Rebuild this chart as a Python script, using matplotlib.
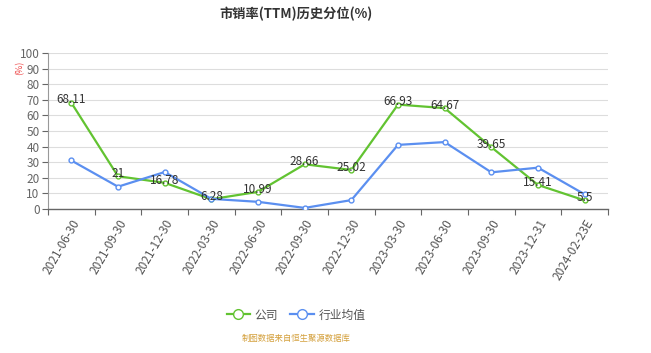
import matplotlib
matplotlib.use("Agg")
import matplotlib.pyplot as plt
import numpy as np

plt.rcParams['font.family'] = ['Noto Sans CJK SC', 'DejaVu Sans']

dates = ['2021-06-30', '2021-09-30', '2021-12-30', '2022-03-30', '2022-06-30',
         '2022-09-30', '2022-12-30', '2023-03-30', '2023-06-30', '2023-09-30',
         '2023-12-31', '2024-02-23E']
company = [68.11, 21, 16.78, 6.28, 10.99, 28.66, 25.02, 66.93, 64.67, 39.65, 15.41, 5.5]
industry = [31.1, 14.3, 23.7, 6.5, 4.6, 0.7, 5.7, 41.1, 42.9, 23.5, 26.5, 9.4]

green = '#62c331'
blue = '#5b8ff0'

fig = plt.figure(figsize=(6.51, 3.53), dpi=100)
ax = fig.add_axes([48/651, 1-209/353, 560/651, 156/353])

x = np.arange(len(dates))
ax.plot(x, company, color=green, lw=1.6, marker='o', ms=3.5, mfc='white', mec=green, mew=1, zorder=3)
ax.plot(x, industry, color=blue, lw=1.6, marker='o', ms=3.5, mfc='white', mec=blue, mew=1, zorder=3)

for xi, v in zip(x, company):
    ax.annotate(f'{v:g}', (xi, v), xytext=(0, 2), textcoords='offset points',
                ha='center', va='center', fontsize=8.5, color='#333333', zorder=4)

ax.set_xlim(-0.5, len(dates) - 0.5)
ax.set_ylim(0, 100)
ax.set_yticks(np.arange(0, 101, 10))
ax.tick_params(axis='y', labelsize=8.5, colors='#666666', length=4, width=0.8, pad=2)
ax.set_xticks(x)
ax.set_xticklabels(dates, rotation=60, ha='right', rotation_mode='anchor', fontsize=8.5, color='#555555')
ax.tick_params(axis='x', length=0, pad=6)
ax.set_xticks(np.arange(-0.5, len(dates)), minor=True)
ax.tick_params(axis='x', which='minor', length=4, width=0.8, color='#666666')

ax.grid(axis='y', color='#dddddd', lw=0.8)
ax.set_axisbelow(True)
for s in ['top', 'right']:
    ax.spines[s].set_visible(False)
ax.spines['left'].set_color('#999999')
ax.spines['bottom'].set_color('#666666')
ax.spines['bottom'].set_linewidth(1)

fig.text(20/651, 1-68/353, '(%)', color='#ee4444', fontsize=6.5, rotation=90, ha='center', va='center')
fig.text(296/651, 1-14/353, '市销率(TTM)历史分位(%)', fontsize=9.5, fontweight='bold', color='#333333',
         ha='center', va='center')

leg = ax.legend(['公司', '行业均值'], loc='center', bbox_to_anchor=(296/651, 1-315/353),
                bbox_transform=fig.transFigure, ncol=2, frameon=False, fontsize=8.5,
                handlelength=2.0, columnspacing=1.0, handletextpad=0.4, markerscale=2.0)
for t in leg.get_texts():
    t.set_color('#555555')

fig.text(296/651, 1-338/353, '制图数据来自恒生聚源数据库', fontsize=6, color='#d4a03c', ha='center', va='center')

fig.savefig('out.png', dpi=100)
